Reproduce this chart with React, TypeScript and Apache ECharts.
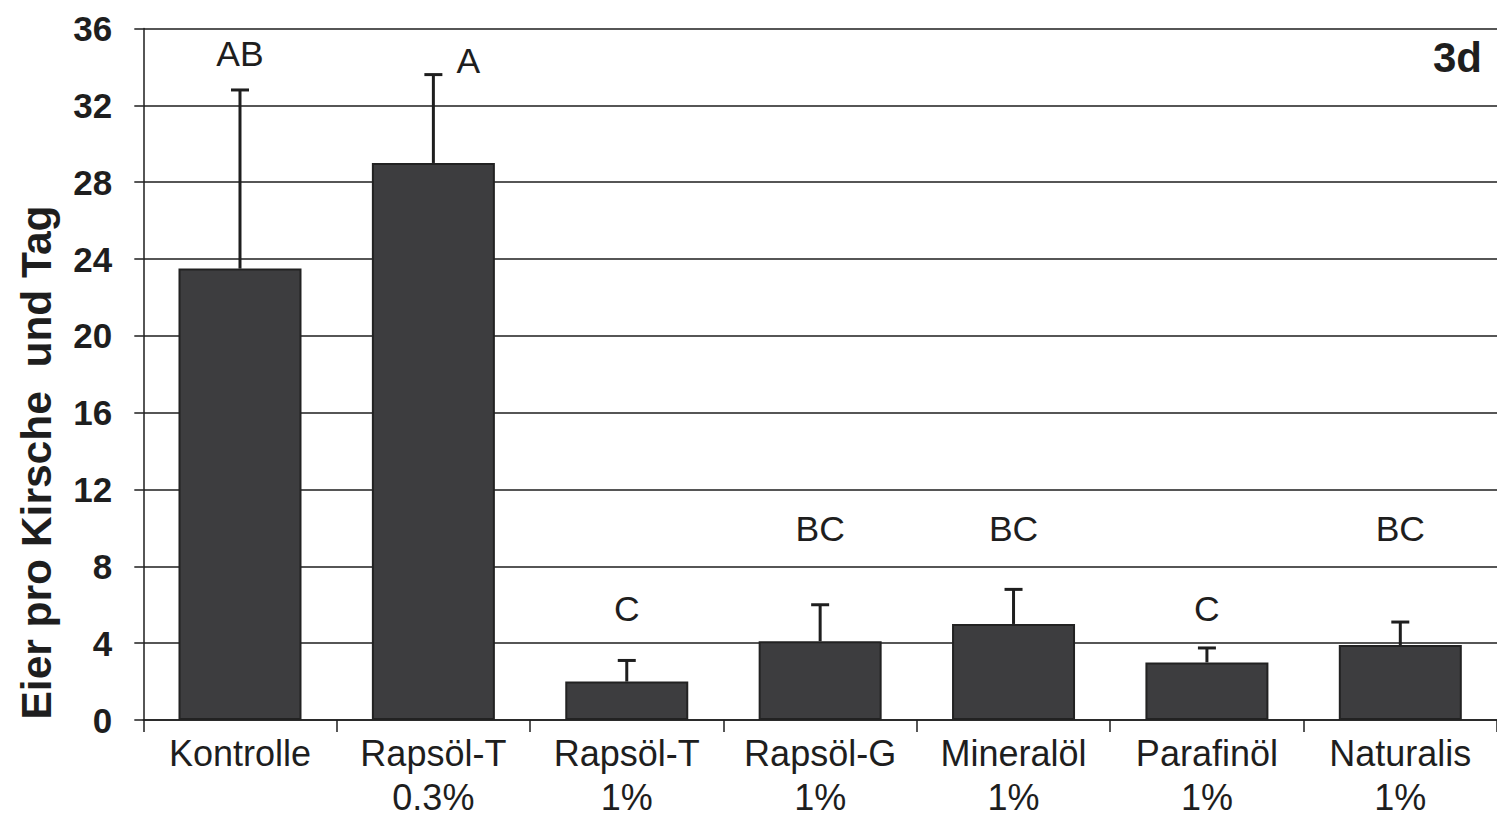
import React, { useEffect, useRef } from "react";
import * as echarts from "echarts";

const categories = [
  "Kontrolle",
  "Rapsöl-T\n0.3%",
  "Rapsöl-T\n1%",
  "Rapsöl-G\n1%",
  "Mineralöl\n1%",
  "Parafinöl\n1%",
  "Naturalis\n1%",
];
const means = [23.5, 29.0, 2.0, 4.1, 5.0, 3.0, 3.9];
const errors = [9.3, 4.6, 1.1, 1.9, 1.8, 0.75, 1.2];
const letters = ["AB", "A", "C", "BC", "BC", "C", "BC"];
const letterHeights = [34.65, 34.3, 5.8, 9.95, 9.95, 5.8, 9.95];
const yTicks = [0, 4, 8, 12, 16, 20, 24, 28, 32, 36];
const yTitle = "Eier pro Kirsche  und Tag";
const panelLabel = "3d";

const FONT = "'Liberation Sans', Arial, sans-serif";
const INK = "#1e1e1e";

export default function App() {
  const ref = useRef<HTMLDivElement>(null);

  useEffect(() => {
    if (!ref.current) return;
    const chart = echarts.init(ref.current, null, { renderer: "svg" });
    const errData = means.map((m, i) => [i, m, errors[i]]);
    const letterData = letters.map((l, i) => ({
      value: [i, letterHeights[i]],
      name: l,
      label: l === "A" ? { offset: [35, 0] } : undefined,
    }));

    chart.setOption({
      animation: false,
      backgroundColor: "#ffffff",
      grid: { left: 143.3, right: -13.6, top: 28.5, bottom: 94, containLabel: false },
      xAxis: {
        type: "category",
        data: categories,
        boundaryGap: true,
        axisLine: { show: true, lineStyle: { color: INK, width: 1.5 } },
        axisTick: { show: true, length: 12, inside: false, lineStyle: { color: INK, width: 1.5 } },
        axisLabel: {
          interval: 0,
          margin: 11,
          color: INK,
          fontFamily: FONT,
          fontSize: 36,
          lineHeight: 44,
        },
        splitLine: { show: false },
      },
      yAxis: {
        type: "value",
        min: yTicks[0],
        max: yTicks[yTicks.length - 1],
        interval: 4,
        axisLine: { show: true, lineStyle: { color: INK, width: 1.5 } },
        axisTick: { show: true, length: 9, inside: false, lineStyle: { color: INK, width: 1.5 } },
        axisLabel: {
          margin: 31,
          color: INK,
          fontFamily: FONT,
          fontSize: 35,
          fontWeight: "bold",
        },
        splitLine: { show: true, lineStyle: { color: INK, width: 1.5 } },
      },
      graphic: [
        {
          type: "text",
          x: 36,
          y: 462.5,
          rotation: Math.PI / 2,
          style: {
            text: yTitle,
            fontFamily: FONT,
            fontSize: 42.5,
            fontWeight: "bold",
            fill: INK,
            align: "center",
            verticalAlign: "middle",
          },
        },
        {
          type: "text",
          x: 1482,
          y: 57,
          style: {
            text: panelLabel,
            fontFamily: FONT,
            fontSize: 42,
            fontWeight: "bold",
            fill: INK,
            align: "right",
            verticalAlign: "middle",
          },
        },
      ],
      series: [
        {
          type: "bar",
          data: means,
          barWidth: 123,
          itemStyle: { color: "#3d3d3f", borderColor: "#222222", borderWidth: 2 },
          z: 2,
        },
        {
          type: "custom",
          data: errData,
          z: 3,
          renderItem: (params: any, api: any) => {
            const i = api.value(0);
            const m = api.value(1);
            const e = api.value(2);
            const base = api.coord([i, m]);
            const top = api.coord([i, m + e]);
            const style = { stroke: INK, lineWidth: 3 };
            return {
              type: "group",
              children: [
                { type: "line", shape: { x1: base[0], y1: base[1], x2: top[0], y2: top[1] }, style },
                { type: "line", shape: { x1: top[0] - 9, y1: top[1], x2: top[0] + 9, y2: top[1] }, style },
              ],
            };
          },
        },
        {
          type: "scatter",
          data: letterData,
          symbolSize: 0,
          z: 4,
          itemStyle: { opacity: 1, color: INK },
          label: {
            show: true,
            position: "inside",
            formatter: (p: any) => p.name,
            color: INK,
            opacity: 1,
            fontFamily: FONT,
            fontSize: 35.5,
          },
        },
      ],
    });
    return () => chart.dispose();
  }, []);

  return (
    <div
      ref={ref}
      style={{ position: "absolute", left: 0, top: 0, width: 1497, height: 819, background: "#fff" }}
    />
  );
}
